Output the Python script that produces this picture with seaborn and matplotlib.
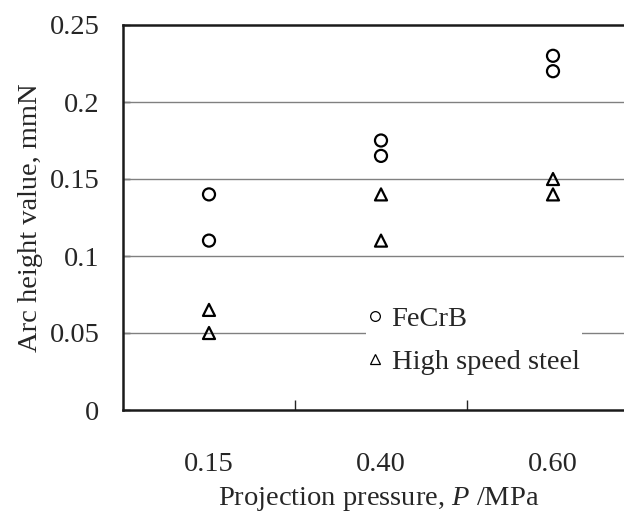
"""
Arc height value vs projection pressure, FeCrB and high speed steel shots
"""
import matplotlib
matplotlib.use("Agg")
import matplotlib.pyplot as plt
from matplotlib.lines import Line2D
import pandas as pd
import seaborn as sns

pressure_labels = ["0.15", "0.40", "0.60"]
fecrb_low = [0.11, 0.165, 0.22]
fecrb_high = [0.14, 0.175, 0.23]
hss_low = [0.05, 0.11, 0.14]
hss_high = [0.065, 0.14, 0.15]
y_ticks = [0, 0.05, 0.1, 0.15, 0.2, 0.25]
y_tick_labels = ["0", "0.05", "0.1", "0.15", "0.2", "0.25"]

rows = []
for i, p in enumerate(pressure_labels):
    rows.append({"pressure": p, "value": fecrb_low[i], "material": "FeCrB"})
    rows.append({"pressure": p, "value": fecrb_high[i], "material": "FeCrB"})
    rows.append({"pressure": p, "value": hss_low[i], "material": "High speed steel"})
    rows.append({"pressure": p, "value": hss_high[i], "material": "High speed steel"})
df = pd.DataFrame(rows)

sns.set_style("white")
plt.rcParams["font.family"] = ["Liberation Serif", "DejaVu Serif"]
plt.rcParams["mathtext.fontset"] = "custom"
plt.rcParams["mathtext.it"] = "Liberation Serif:italic"
FS = 20.5

fig = plt.figure(figsize=(6.24, 5.21), dpi=100)
ax = fig.add_axes([123 / 624, 111 / 521, 501 / 624, 385 / 521])

sns.scatterplot(
    data=df, x="pressure", y="value", style="material",
    markers={"FeCrB": "o", "High speed steel": "^"},
    color="black", s=75, linewidth=1.6, legend=False, ax=ax, zorder=3,
)
for coll in ax.collections:
    coll.set_facecolor("none")
    coll.set_edgecolor("black")

# grid lines
for yv in y_ticks[1:-1]:
    ax.axhline(yv, color="#808080", lw=1.0, zorder=1)

ax.set_xlim(-0.5, 501 / 172 - 0.5)
ax.set_ylim(0, 0.25)
ax.set_yticks(y_ticks)
ax.set_yticklabels(y_tick_labels)
ax.set_xticks([0, 1, 2])
ax.set_xticklabels(pressure_labels)
ax.set_xticks([0.5, 1.5], minor=True)

ax.tick_params(axis="y", direction="in", length=5, width=1, pad=17, labelsize=FS, left=True)
ax.tick_params(axis="x", which="major", length=0, pad=30, labelsize=FS, bottom=True)
ax.tick_params(axis="x", which="minor", direction="in", length=7, width=1, bottom=True)

for side in ["left", "bottom", "top"]:
    ax.spines[side].set_visible(True)
    ax.spines[side].set_color("#1a1a1a")
    ax.spines[side].set_linewidth(1.8)
ax.spines["right"].set_visible(False)

ax.set_xlabel(r"Projection pressure, $\it{P}$ /MPa", fontsize=FS)
ax.set_ylabel("Arc height value, mmN", fontsize=FS)
ax.xaxis.set_label_coords(0.511, -0.195)
ax.yaxis.set_label_coords(-0.16, 0.5)

handles = [
    Line2D([], [], marker="o", ls="none", mfc="none", mec="black", ms=7, mew=0.9, label="FeCrB"),
    Line2D([], [], marker="^", ls="none", mfc="none", mec="black", ms=7, mew=0.9, label="High speed steel"),
]
leg = ax.legend(
    handles=handles, loc="upper left", bbox_to_anchor=(243 / 501, 107 / 385),
    fontsize=FS, frameon=True, facecolor="white", edgecolor="none", framealpha=1,
    handlelength=0.4, handletextpad=0.4, labelspacing=0.6, borderpad=0.1,
    borderaxespad=0, fancybox=False,
)
leg.set_zorder(5)

fig.savefig("out.png", dpi=100)
